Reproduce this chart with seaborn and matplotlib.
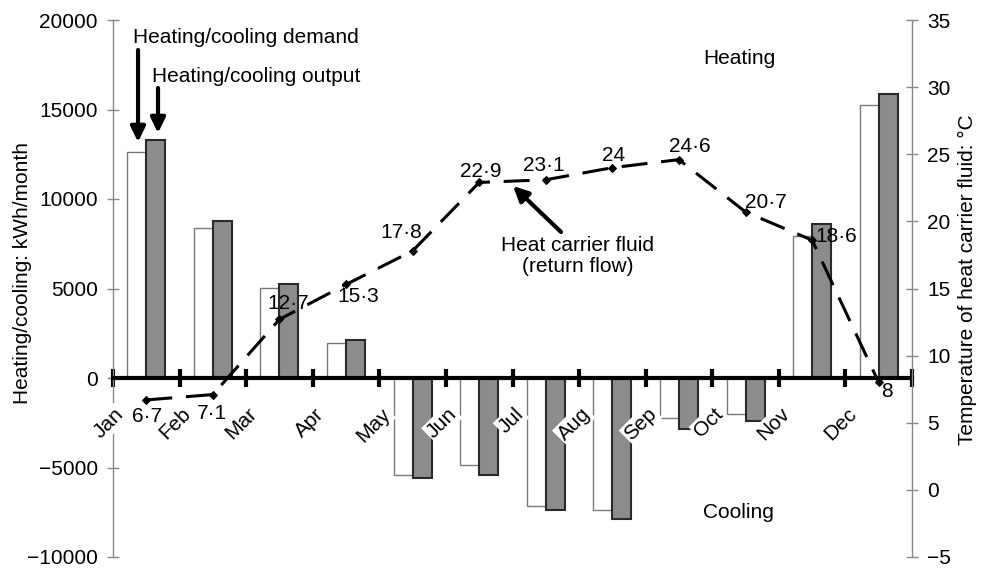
import numpy as np
import pandas as pd
import matplotlib
matplotlib.use("Agg")
import matplotlib.pyplot as plt
import seaborn as sns

# Monthly heating (+) / cooling (-) energy, kWh/month
months = ["Jan", "Feb", "Mar", "Apr", "May", "Jun",
          "Jul", "Aug", "Sep", "Oct", "Nov", "Dec"]
demand = [12650, 8400, 5050, 1950, -5430, -4870,
          -7170, -7390, -2240, -2020, 7950, 15230]
output = [13270, 8790, 5260, 2100, -5600, -5430,
          -7390, -7900, -2860, -2410, 8620, 15840]

# Return-flow temperature of the heat carrier fluid, deg C
fluid_temp = [6.7, 7.1, 12.7, 15.3, 17.8, 22.9, 23.1, 24.0, 24.6, 20.7, 18.6, 8.0]
temp_labels = ["6\u00b77", "7\u00b71", "12\u00b77", "15\u00b73", "17\u00b78", "22\u00b79",
               "23\u00b71", "24", "24\u00b76", "20\u00b77", "18\u00b76", "8"]
# label offsets from each point, pixels
label_offsets = [(1, -17), (-1, -19), (9, 16), (12, -12), (-11, 18), (2, 11),
                 (-2, 14), (1, 12), (11, 13), (20, 9), (24, 4), (8, -9)]

left_ticks = list(range(-10000, 20001, 5000))
right_ticks = list(range(-5, 36, 5))

sns.set_theme(style="white")
plt.rcParams["font.family"] = ["Liberation Sans", "DejaVu Sans"]
FS = 15

fig = plt.figure(figsize=(9.82, 5.70), dpi=100)
ax = fig.add_axes([113 / 982, 1 - 557 / 570, (912 - 113) / 982, (557 - 20) / 570])

df = pd.DataFrame({
    "month": months * 2,
    "kwh": demand + output,
    "series": ["demand"] * 12 + ["output"] * 12,
})
sns.barplot(data=df, x="month", y="kwh", hue="series", order=months,
            hue_order=["demand", "output"], palette=["white", "#8c8c8c"],
            saturation=1, width=0.57, gap=0, errorbar=None, legend=False, ax=ax)
for cont, ec, lw in zip(ax.containers, ["#7a7a7a", "#2a2a2a"], [1.0, 1.5]):
    for bar in cont:
        bar.set_edgecolor(ec)
        bar.set_linewidth(lw)

ax.set_xlim(-0.5, 11.5)
ax.set_ylim(-10000, 20000)
ax.set_yticks(left_ticks)
ax.set_yticklabels([str(v).replace("-", "\u2212") for v in left_ticks])
ax.set_xticks(np.arange(-0.5, 12, 1))
ax.set_xticklabels([])
ax.set_xlabel("")

for s in ["top", "right"]:
    ax.spines[s].set_visible(False)
ax.spines["bottom"].set_position(("data", 0))
ax.spines["bottom"].set_linewidth(3)
ax.spines["bottom"].set_color("black")
ax.spines["bottom"].set_zorder(4)
ax.spines["left"].set_color("#888888")
ax.spines["left"].set_linewidth(1)
ax.tick_params(axis="x", direction="inout", length=13, width=3, color="black", bottom=True)
ax.tick_params(axis="y", direction="inout", length=8, width=1, color="#888888",
               labelsize=FS, pad=7, left=True, labelcolor="black")
ax.set_ylabel("Heating/cooling: kWh/month", fontsize=FS, color="black")
ax.yaxis.set_label_coords(-0.101, 0.529)

# month names sit at the category boundaries, on white boxes
for i, m in enumerate(months):
    ax.annotate(m, xy=(i - 0.5, 0), xycoords="data", xytext=(8, -33),
                textcoords="offset pixels", rotation=45, ha="right", va="center",
                rotation_mode="anchor", fontsize=FS, color="black", zorder=5,
                bbox=dict(fc="white", ec="none", pad=1.0))

# fluid temperature on the secondary axis
ax2 = ax.twinx()
sns.lineplot(x=np.arange(12), y=fluid_temp, ax=ax2, color="black", lw=2.2,
             linestyle=(0, (8.5, 4.5)), marker="D", markersize=4.5,
             markeredgecolor="black", markerfacecolor="black")
ax2.set_xlim(-0.5, 11.5)
ax2.set_ylim(-5, 35)
ax2.set_yticks(right_ticks)
ax2.set_yticklabels([str(v).replace("-", "\u2212") for v in right_ticks])
for s in ["top", "left", "bottom"]:
    ax2.spines[s].set_visible(False)
ax2.spines["right"].set_color("#888888")
ax2.spines["right"].set_linewidth(1)
ax2.tick_params(axis="y", direction="inout", length=8, width=1, color="#888888",
                labelsize=FS, pad=7, right=True, labelcolor="black")
ax2.set_ylabel("Temperature of heat carrier fluid: \u00b0C", fontsize=FS, color="black")
ax2.yaxis.set_label_coords(1.0576, 0.516)

for i, (t, lab, off) in enumerate(zip(fluid_temp, temp_labels, label_offsets)):
    ax2.annotate(lab, xy=(i, t), xytext=off, textcoords="offset pixels",
                 ha="center", va="center", fontsize=FS, color="black")

arrow = dict(arrowstyle="-|>,head_length=0.45,head_width=0.22", color="black",
             lw=3, shrinkA=0, shrinkB=0, mutation_scale=20)

ax.text(-0.2, 19050, "Heating/cooling demand", ha="left", va="center",
        fontsize=FS, color="black")
ax.annotate("", xy=(-0.124, 13184), xytext=(-0.124, 18324), arrowprops=arrow)
ax.text(0.086, 16871, "Heating/cooling output", ha="left", va="center",
        fontsize=FS, color="black")
ax.annotate("", xy=(0.176, 13687), xytext=(0.176, 16201), arrowprops=arrow)

ax.text(8.9, 17877, "Heating", ha="center", va="center", fontsize=FS, color="black")
ax.text(8.9, -7488, "Cooling", ha="center", va="center", fontsize=FS, color="black")

ax.text(6.48, 6815, "Heat carrier fluid\n(return flow)", ha="center", va="center",
        fontsize=FS, color="black", linespacing=1.1, zorder=6)
ax.annotate("", xy=(5.508, 10726), xytext=(6.229, 8156), arrowprops=arrow, zorder=6)

fig.savefig("out.png", dpi=100)
